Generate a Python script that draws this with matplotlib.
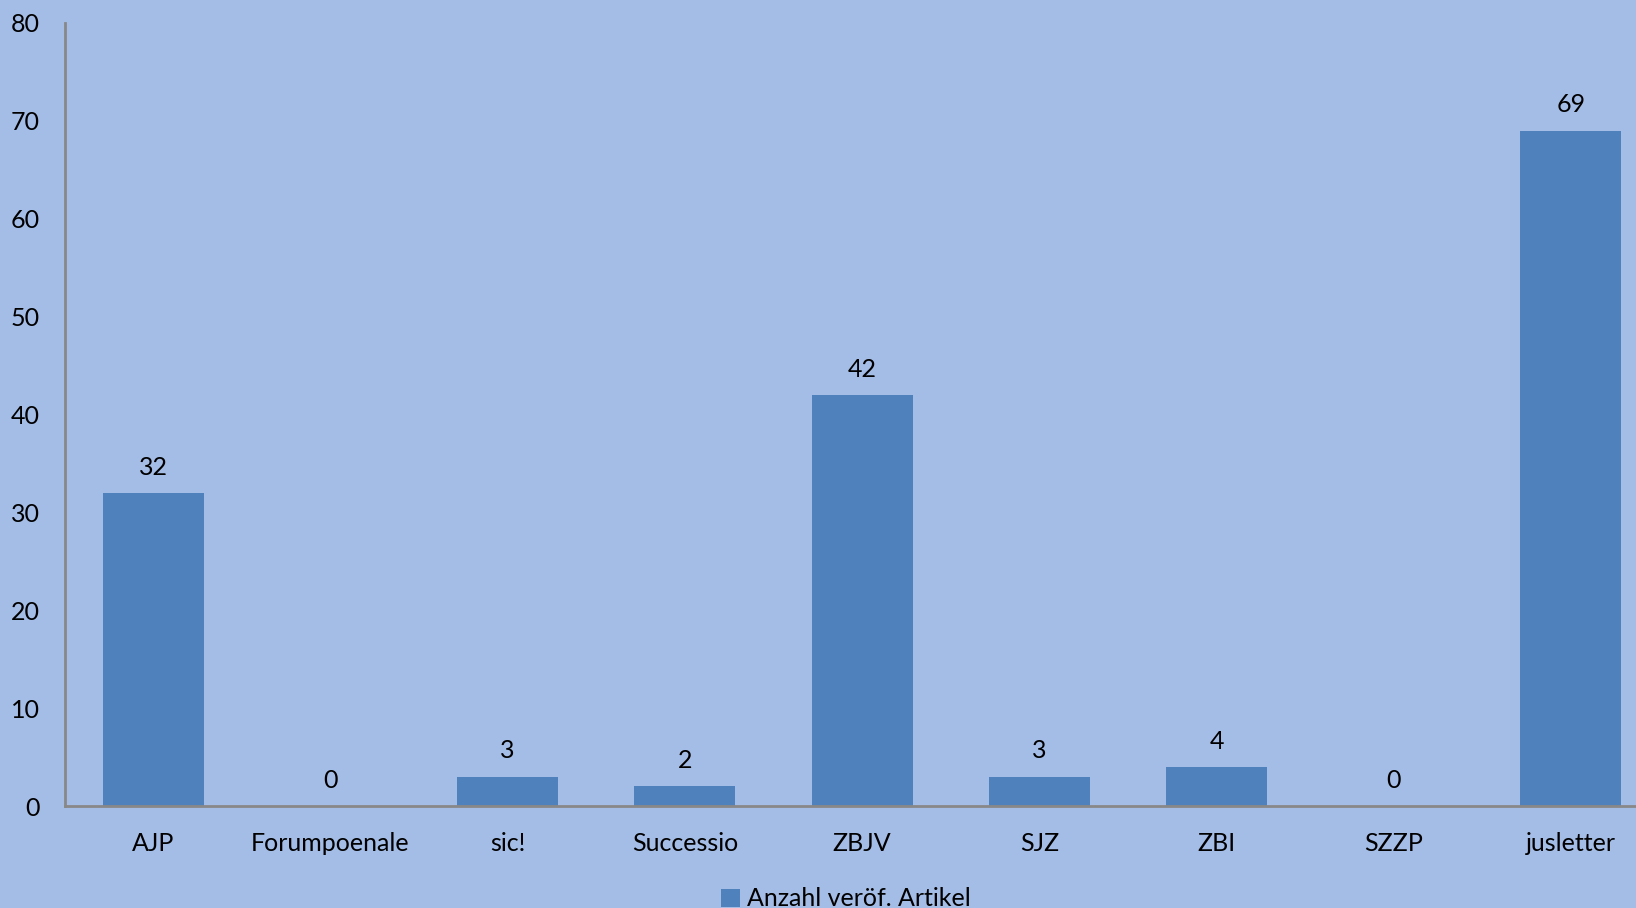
import matplotlib
matplotlib.use("Agg")
import matplotlib.pyplot as plt
from matplotlib.patches import Patch

journals = ["AJP", "Forumpoenale", "sic!", "Successio", "ZBJV", "SJZ", "ZBI", "SZZP", "jusletter"]
articles = [32, 0, 3, 2, 42, 3, 4, 0, 69]
yticks = [0, 10, 20, 30, 40, 50, 60, 70, 80]

bg = "#A4BDE7"
bar_color = "#4F81BD"

plt.rcParams['font.family'] = ['Lato', 'DejaVu Sans']

fig = plt.figure(figsize=(16.36, 9.08), dpi=100, facecolor=bg)
W, H = 1636, 908
# axes box in pixels: left 64.5, bottom y=806, top y=23, right past the edge
left, right, top, bottom = 64.5, 1659.6, 23, 806
ax = fig.add_axes([left / W, 1 - bottom / H, (right - left) / W, (bottom - top) / H])
ax.set_facecolor(bg)

x = list(range(len(journals)))
ax.bar(x, articles, width=0.57, color=bar_color, zorder=2)

for xi, v in zip(x, articles):
    ax.annotate(str(v), (xi, v), xytext=(0, 18.5), textcoords="offset points",
                ha="center", va="center", fontsize=18, color="black")

ax.set_xlim(-0.5, len(journals) - 0.5)
ax.set_ylim(0, 80)
ax.set_yticks(yticks)
ax.set_xticks(x)
ax.set_xticklabels(journals)
ax.tick_params(axis="both", length=0, labelsize=18, colors="black")
ax.tick_params(axis="y", pad=18)
ax.tick_params(axis="x", pad=19)

for s in ["top", "right"]:
    ax.spines[s].set_visible(False)
for s in ["left", "bottom"]:
    ax.spines[s].set_color("#888888")
    ax.spines[s].set_linewidth(2)

handles = [Patch(facecolor=bar_color, label="Anzahl veröf. Artikel")]
fig.legend(handles=handles, loc="center", bbox_to_anchor=(846 / W, 1 - 899 / H),
           frameon=False, fontsize=18, handlelength=0.75, handleheight=0.75,
           handletextpad=0.3)

fig.savefig("out.png", dpi=100, facecolor=bg)
